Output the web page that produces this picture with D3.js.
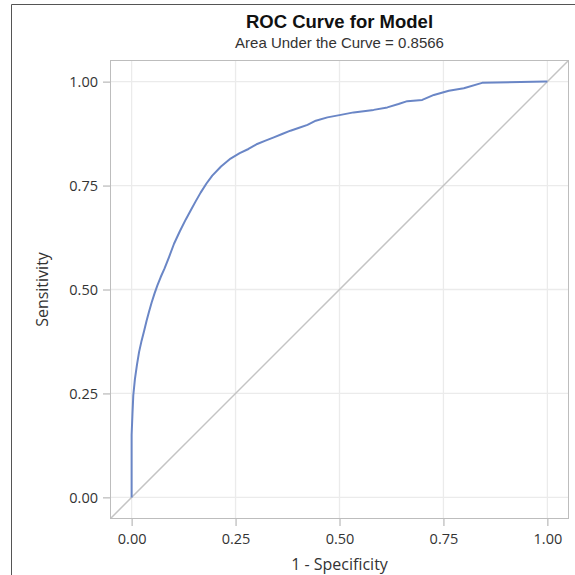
<!DOCTYPE html>
<html><head><meta charset="utf-8">
<script src="https://cdn.jsdelivr.net/npm/d3@7"></script>
<style>body{margin:0;background:#fff}svg{display:block}</style>
</head><body>
<script>
const title = "ROC Curve for Model";
const subtitle = "Area Under the Curve = 0.8566";
const xLabel = "1 - Specificity";
const yLabel = "Sensitivity";
const tickValues = [0, 0.25, 0.5, 0.75, 1];
const fpr = [0, 0, 0.002, 0.004, 0.008, 0.013, 0.018, 0.024, 0.03, 0.036, 0.042, 0.048, 0.055, 0.062, 0.07, 0.079, 0.09, 0.102, 0.116, 0.13, 0.142, 0.154, 0.166, 0.18, 0.194, 0.215, 0.238, 0.26, 0.281, 0.302, 0.322, 0.342, 0.362, 0.382, 0.403, 0.423, 0.443, 0.471, 0.503, 0.534, 0.582, 0.615, 0.642, 0.663, 0.699, 0.727, 0.763, 0.799, 0.843, 0.996, 1];
const tpr = [0, 0.15, 0.2, 0.245, 0.285, 0.32, 0.35, 0.377, 0.40, 0.425, 0.447, 0.468, 0.49, 0.51, 0.53, 0.55, 0.578, 0.61, 0.64, 0.668, 0.69, 0.712, 0.733, 0.755, 0.774, 0.796, 0.815, 0.828, 0.838, 0.85, 0.858, 0.866, 0.874, 0.882, 0.889, 0.896, 0.906, 0.914, 0.92, 0.926, 0.932, 0.938, 0.946, 0.953, 0.956, 0.968, 0.978, 0.984, 0.997, 1.0, 1];

const W = 575, H = 575;
const L = 110, R = 569, T = 60, B = 519;
const dom = [-0.052, 1.052];
const x = d3.scaleLinear().domain(dom).range([L, R]);
const y = d3.scaleLinear().domain(dom).range([B, T]);

const svg = d3.select("body").append("svg").attr("width", W).attr("height", H);
const font = "'Open Sans', sans-serif";
const txt = "#333";

// outer border
svg.append("path").attr("d", `M11.5,${H}V4.5H${W}`).attr("fill","none").attr("stroke","#555").attr("stroke-width",1);

// grid
const g = svg.append("g");
g.selectAll(".gx").data(tickValues).join("line")
  .attr("x1", d=>x(d)).attr("x2", d=>x(d)).attr("y1", T).attr("y2", B)
  .attr("stroke", "#ebebeb").attr("stroke-width", 1.3);
g.selectAll(".gy").data(tickValues).join("line")
  .attr("y1", d=>y(d)).attr("y2", d=>y(d)).attr("x1", L).attr("x2", R)
  .attr("stroke", "#ebebeb").attr("stroke-width", 1.3);

svg.append("defs").append("clipPath").attr("id","clip").append("rect")
  .attr("x", L).attr("y", T).attr("width", R-L).attr("height", B-T);

// diagonal
svg.append("line").attr("clip-path","url(#clip)")
  .attr("x1", x(dom[0])).attr("y1", y(dom[0])).attr("x2", x(dom[1])).attr("y2", y(dom[1]))
  .attr("stroke", "#c4c4c4").attr("stroke-width", 1.5);

// curve
const pts = fpr.map((f,i)=>[f, tpr[i]]);
svg.append("path").datum(pts)
  .attr("d", d3.line().x(d=>x(d[0])).y(d=>y(d[1])).curve(d3.curveLinear))
  .attr("fill","none").attr("stroke","#6a86c6").attr("stroke-width",2).attr("stroke-linejoin","round");

// frame
svg.append("rect").attr("x", L+0.5).attr("y", T+0.5).attr("width", R-L-1).attr("height", B-T-1)
  .attr("fill","none").attr("stroke","#bdbdbd").attr("stroke-width",1);

// axes
const fmt = d3.format(".2f");
const xa = svg.append("g").attr("transform", `translate(0,${B})`)
  .call(d3.axisBottom(x).tickValues(tickValues).tickFormat(fmt).tickSize(7).tickPadding(8));
const ya = svg.append("g").attr("transform", `translate(${L},0)`)
  .call(d3.axisLeft(y).tickValues(tickValues).tickFormat(fmt).tickSize(7).tickPadding(5));
[xa, ya].forEach(a=>{
  a.select(".domain").remove();
  a.selectAll(".tick line").attr("stroke","#aaa");
  a.selectAll(".tick text").attr("fill", txt).style("font-family", font).style("font-size","14.5px");
});

svg.append("text").attr("x", (L+R)/2).attr("y", 570).attr("text-anchor","middle")
  .attr("fill", txt).style("font-family", font).style("font-size","16px").text(xLabel);
svg.append("text").attr("transform", `translate(48,${(T+B)/2}) rotate(-90)`).attr("text-anchor","middle")
  .attr("fill", txt).style("font-family", font).style("font-size","16px").text(yLabel);

svg.append("text").attr("x", (L+R)/2).attr("y", 28).attr("text-anchor","middle")
  .attr("fill", "#111").style("font-family", "'Liberation Sans', Arial, sans-serif").style("font-weight","bold").style("font-size","18.5px").text(title);
svg.append("text").attr("x", (L+R)/2).attr("y", 48).attr("text-anchor","middle")
  .attr("fill", txt).style("font-family", "'Liberation Sans', Arial, sans-serif").style("font-size","15px").text(subtitle);
</script>
</body></html>
